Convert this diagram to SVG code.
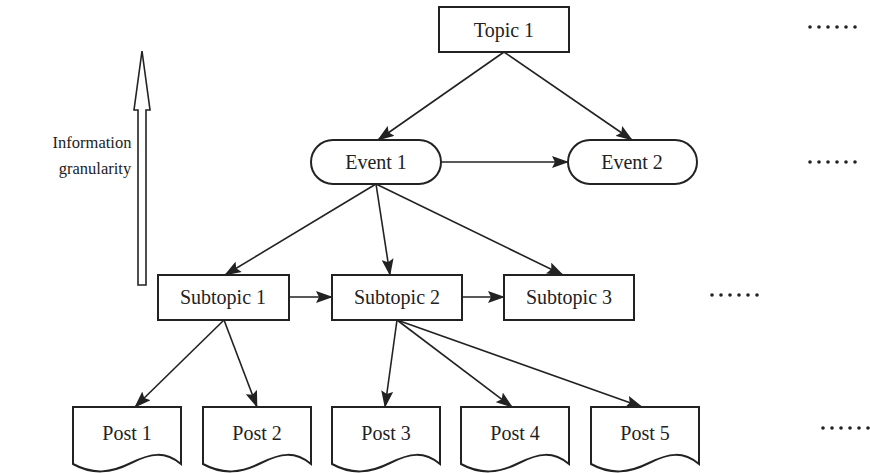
<svg xmlns="http://www.w3.org/2000/svg" width="870" height="473" viewBox="0 0 870 473">
  <style>
    .box { fill: #fff; stroke: #222; stroke-width: 2; }
    .lbl { font-family: "Liberation Serif", "Times New Roman", serif; font-size: 20px; fill: #222; text-anchor: middle; }
    .side { font-family: "Liberation Serif", "Times New Roman", serif; font-size: 16.5px; fill: #222; text-anchor: middle; }
    .edge { fill: none; stroke: #222; stroke-width: 1.6; marker-end: url(#ah); }
    .dot { fill: #222; }
  </style>
  <defs>
    <marker id="ah" markerUnits="userSpaceOnUse" markerWidth="17" markerHeight="12" viewBox="0 0 17 12" refX="16" refY="6" orient="auto">
      <path d="M0,0 L17,6 L0,12 L3,6 Z" fill="#222"/>
    </marker>
    <path id="doc" d="M0,0 H108 V57 C92,44 78,46 58,56 C38,66 20,68 0,57 Z"/>
    <g id="dots">
      <circle class="dot" cx="0" cy="0" r="1.8"/>
      <circle class="dot" cx="9" cy="0" r="1.8"/>
      <circle class="dot" cx="18" cy="0" r="1.8"/>
      <circle class="dot" cx="27" cy="0" r="1.8"/>
      <circle class="dot" cx="36" cy="0" r="1.8"/>
      <circle class="dot" cx="45" cy="0" r="1.8"/>
    </g>
  </defs>

  <rect width="870" height="473" fill="#fff"/>

  <!-- granularity axis -->
  <g id="granularity-axis">
    <polygon points="138,285 146,285 146,110 150,110 142,51 134,110 138,110" fill="#fff" stroke="#222" stroke-width="1.6"/>
    <text class="side" x="92" y="148">Information</text>
    <text class="side" x="95" y="174">granularity</text>
  </g>

  <!-- connectors -->
  <g id="edges">
    <line class="edge" x1="504" y1="52" x2="378" y2="140"/>
    <line class="edge" x1="504" y1="52" x2="632" y2="140"/>
    <line class="edge" x1="441" y1="162" x2="568" y2="162"/>
    <line class="edge" x1="376" y1="184" x2="225" y2="275"/>
    <line class="edge" x1="376" y1="184" x2="390" y2="275"/>
    <line class="edge" x1="376" y1="184" x2="563" y2="275"/>
    <line class="edge" x1="289" y1="297" x2="332" y2="297"/>
    <line class="edge" x1="462" y1="297" x2="504" y2="297"/>
    <line class="edge" x1="224" y1="320" x2="135" y2="407"/>
    <line class="edge" x1="224" y1="320" x2="257" y2="407"/>
    <line class="edge" x1="397" y1="320" x2="385" y2="407"/>
    <line class="edge" x1="397" y1="320" x2="512" y2="407"/>
    <line class="edge" x1="397" y1="320" x2="642" y2="407"/>
  </g>

  <g id="topic1">
    <rect class="box" x="439" y="7" width="130" height="45"/>
    <text class="lbl" x="504" y="37">Topic 1</text>
  </g>

  <g id="event1">
    <rect class="box" x="311" y="140" width="130" height="44" rx="22"/>
    <text class="lbl" x="376" y="169">Event 1</text>
  </g>
  <g id="event2">
    <rect class="box" x="568" y="140" width="129" height="44" rx="22"/>
    <text class="lbl" x="632" y="169">Event 2</text>
  </g>

  <g id="subtopic1">
    <rect class="box" x="158" y="275" width="131" height="45"/>
    <text class="lbl" x="223" y="304">Subtopic 1</text>
  </g>
  <g id="subtopic2">
    <rect class="box" x="332" y="275" width="130" height="45"/>
    <text class="lbl" x="397" y="304">Subtopic 2</text>
  </g>
  <g id="subtopic3">
    <rect class="box" x="504" y="275" width="130" height="45"/>
    <text class="lbl" x="569" y="304">Subtopic 3</text>
  </g>

  <g id="post1">
    <use href="#doc" class="box" x="73" y="407"/>
    <text class="lbl" x="127" y="440">Post 1</text>
  </g>
  <g id="post2">
    <use href="#doc" class="box" x="203" y="407"/>
    <text class="lbl" x="257" y="440">Post 2</text>
  </g>
  <g id="post3">
    <use href="#doc" class="box" x="332" y="407"/>
    <text class="lbl" x="386" y="440">Post 3</text>
  </g>
  <g id="post4">
    <use href="#doc" class="box" x="461" y="407"/>
    <text class="lbl" x="515" y="440">Post 4</text>
  </g>
  <g id="post5">
    <use href="#doc" class="box" x="591" y="407"/>
    <text class="lbl" x="645" y="440">Post 5</text>
  </g>

  <!-- continuation marks -->
  <g id="more">
    <use href="#dots" x="810" y="27"/>
    <use href="#dots" x="810" y="162"/>
    <use href="#dots" x="712" y="295"/>
    <use href="#dots" x="823" y="428"/>
  </g>
</svg>
